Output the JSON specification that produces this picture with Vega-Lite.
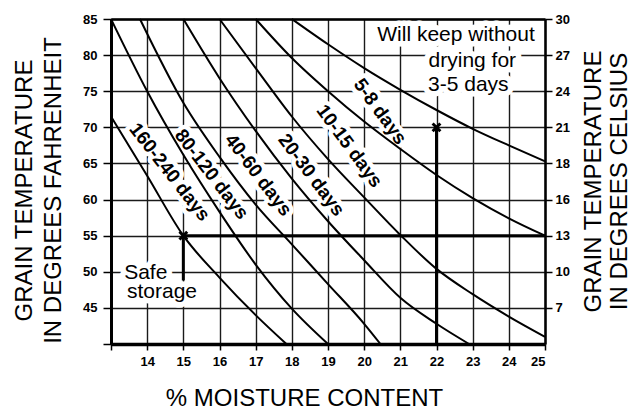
{
  "$schema": "https://vega.github.io/schema/vega-lite/v6.json",
  "width": 434,
  "height": 325,
  "autosize": {"type": "none"},
  "padding": {"left": 111, "top": 19, "right": 87, "bottom": 66},
  "background": "white",
  "config": {"view": {"stroke": null}, "font": "Liberation Sans"},
  "datasets": {
    "curves": [
      {"curve": "c1", "moisture": 13, "tempF": 71.5},
      {"curve": "c1", "moisture": 14, "tempF": 63.3},
      {"curve": "c1", "moisture": 15, "tempF": 55},
      {"curve": "c1", "moisture": 16, "tempF": 49.2},
      {"curve": "c1", "moisture": 17, "tempF": 44},
      {"curve": "c1", "moisture": 17.85, "tempF": 40},
      {"curve": "c2", "moisture": 13, "tempF": 85},
      {"curve": "c2", "moisture": 14, "tempF": 75},
      {"curve": "c2", "moisture": 15, "tempF": 66.2},
      {"curve": "c2", "moisture": 16, "tempF": 58.3},
      {"curve": "c2", "moisture": 17, "tempF": 51},
      {"curve": "c2", "moisture": 18, "tempF": 44.9},
      {"curve": "c2", "moisture": 19, "tempF": 40},
      {"curve": "c3", "moisture": 13.8, "tempF": 85},
      {"curve": "c3", "moisture": 15, "tempF": 73.4},
      {"curve": "c3", "moisture": 16, "tempF": 65.9},
      {"curve": "c3", "moisture": 17, "tempF": 59.3},
      {"curve": "c3", "moisture": 18, "tempF": 53.8},
      {"curve": "c3", "moisture": 19, "tempF": 48.3},
      {"curve": "c3", "moisture": 20, "tempF": 42.8},
      {"curve": "c3", "moisture": 20.45, "tempF": 40},
      {"curve": "c4", "moisture": 15, "tempF": 85},
      {"curve": "c4", "moisture": 16, "tempF": 76.8},
      {"curve": "c4", "moisture": 17, "tempF": 69.5},
      {"curve": "c4", "moisture": 18, "tempF": 62.9},
      {"curve": "c4", "moisture": 19, "tempF": 57},
      {"curve": "c4", "moisture": 20, "tempF": 51.6},
      {"curve": "c4", "moisture": 21, "tempF": 46.4},
      {"curve": "c4", "moisture": 22, "tempF": 42.8},
      {"curve": "c4", "moisture": 22.9, "tempF": 40},
      {"curve": "c5", "moisture": 16, "tempF": 85},
      {"curve": "c5", "moisture": 17, "tempF": 78.2},
      {"curve": "c5", "moisture": 18, "tempF": 71.5},
      {"curve": "c5", "moisture": 19, "tempF": 65.6},
      {"curve": "c5", "moisture": 20, "tempF": 60.3},
      {"curve": "c5", "moisture": 21, "tempF": 55.1},
      {"curve": "c5", "moisture": 22, "tempF": 50.4},
      {"curve": "c5", "moisture": 23, "tempF": 46.9},
      {"curve": "c5", "moisture": 24, "tempF": 43.8},
      {"curve": "c5", "moisture": 25, "tempF": 41},
      {"curve": "c6", "moisture": 17, "tempF": 85},
      {"curve": "c6", "moisture": 18, "tempF": 79.6},
      {"curve": "c6", "moisture": 19, "tempF": 75},
      {"curve": "c6", "moisture": 20, "tempF": 70.8},
      {"curve": "c6", "moisture": 21, "tempF": 67},
      {"curve": "c6", "moisture": 22, "tempF": 63.4},
      {"curve": "c6", "moisture": 23, "tempF": 60.2},
      {"curve": "c6", "moisture": 24, "tempF": 57.4},
      {"curve": "c6", "moisture": 25, "tempF": 55},
      {"curve": "c7", "moisture": 18, "tempF": 85},
      {"curve": "c7", "moisture": 19, "tempF": 81.5},
      {"curve": "c7", "moisture": 20, "tempF": 78.2},
      {"curve": "c7", "moisture": 21, "tempF": 75.2},
      {"curve": "c7", "moisture": 22, "tempF": 72.4},
      {"curve": "c7", "moisture": 23, "tempF": 69.8},
      {"curve": "c7", "moisture": 24, "tempF": 67.5},
      {"curve": "c7", "moisture": 25, "tempF": 65.3}
    ],
    "labels": [
      {"label": "160-240 days", "moisture": 14.62, "tempF": 63.8},
      {"label": "80-120 days", "moisture": 15.78, "tempF": 63.5},
      {"label": "40-60 days", "moisture": 17.07, "tempF": 63.4},
      {"label": "20-30 days", "moisture": 18.54, "tempF": 63.4},
      {"label": "10-15 days", "moisture": 19.59, "tempF": 67.4},
      {"label": "5-8 days", "moisture": 20.44, "tempF": 72.2}
    ],
    "notes": [
      {"note": "Safe", "moisture": 13.96, "tempF": 49.9},
      {"note": "storage", "moisture": 14.41, "tempF": 47.2},
      {"note": "Will keep without", "moisture": 22.54, "tempF": 82.8},
      {"note": "drying for", "moisture": 22.99, "tempF": 79.2},
      {"note": "3-5 days", "moisture": 22.88, "tempF": 75.8}
    ],
    "guides": [
      {"moisture": 15, "moisture2": 25, "tempF": 55, "tempF2": 55},
      {"moisture": 15, "moisture2": 15, "tempF": 55, "tempF2": 48.8},
      {"moisture": 22, "moisture2": 22, "tempF": 70, "tempF2": 40}
    ],
    "points": [
      {"moisture": 15, "tempF": 55},
      {"moisture": 22, "tempF": 70}
    ]
  },
  "layer": [
    {
      "data": {"name": "labels"},
      "mark": {"type": "text", "font": "Liberation Sans", "fontWeight": "bold", "fontSize": 19, "align": "center", "baseline": "middle", "color": "white", "stroke": "white", "strokeWidth": 9, "strokeJoin": "round"},
      "encoding": {
        "x": {
          "field": "moisture", "type": "quantitative",
          "scale": {"domain": [13, 25], "nice": false, "zero": false},
          "axis": {
            "orient": "bottom",
            "values": [13, 14, 15, 16, 17, 18, 19, 20, 21, 22, 23, 24, 25],
            "labelExpr": "datum.value == 13 ? '' : datum.label",
            "labelFont": "Liberation Sans", "labelFontWeight": "bold", "labelFontSize": 13, "labelColor": "black", "labelPadding": 5,
            "domainColor": "black", "domainWidth": 3.5,
            "tickColor": "black", "tickWidth": 1.5, "tickSize": 6,
            "grid": true, "gridColor": "#1a1a1a", "gridWidth": 1.4,
            "title": "% MOISTURE CONTENT",
            "titleFont": "Liberation Sans", "titleFontSize": 24, "titleFontWeight": "normal", "titleColor": "black",
            "titleX": 193, "titleY": 61, "titleAlign": "center", "titleBaseline": "alphabetic"
          }
        },
        "y": {
          "field": "tempF", "type": "quantitative",
          "scale": {"domain": [40, 85], "nice": false, "zero": false},
          "axis": {
            "orient": "left",
            "values": [40, 45, 50, 55, 60, 65, 70, 75, 80, 85],
            "labelExpr": "datum.value == 40 ? '' : datum.label",
            "labelFont": "Liberation Sans", "labelFontWeight": "bold", "labelFontSize": 13, "labelColor": "black", "labelPadding": 6,
            "domainColor": "black", "domainWidth": 3,
            "tickColor": "black", "tickWidth": 1.5, "tickSize": 8,
            "grid": true, "gridColor": "#1a1a1a", "gridWidth": 1.4,
            "title": ["GRAIN TEMPERATURE", "IN DEGREES FAHRENHEIT"],
            "titleFont": "Liberation Sans", "titleFontSize": 24, "titleFontWeight": "normal", "titleColor": "black", "titleLineHeight": 29,
            "titleAngle": 270, "titleX": -87, "titleY": 171, "titleAlign": "center", "titleBaseline": "middle"
          }
        },
        "text": {"field": "label"},
        "angle": {"field": "label", "type": "nominal", "scale": {"domain": ["160-240 days", "80-120 days", "40-60 days", "20-30 days", "10-15 days", "5-8 days"], "range": [52, 54, 54, 50, 43, 46]}, "legend": null}
      }
    },
    {
      "data": {"name": "notes"},
      "mark": {"type": "text", "font": "Liberation Sans", "fontSize": 21, "align": "center", "baseline": "middle", "color": "white", "stroke": "white", "strokeWidth": 11, "strokeJoin": "round"},
      "encoding": {
        "x": {"field": "moisture", "type": "quantitative", "axis": null},
        "y": {"field": "tempF", "type": "quantitative", "axis": null},
        "text": {"field": "note"}
      }
    },
    {
      "data": {"name": "curves"},
      "mark": {"type": "line", "color": "black", "strokeWidth": 2, "interpolate": "monotone"},
      "encoding": {
        "x": {
          "field": "moisture", "type": "quantitative",
          "axis": {"orient": "top", "domain": true, "domainColor": "black", "domainWidth": 2.5, "ticks": false, "labels": false, "grid": false, "title": null}
        },
        "y": {
          "field": "tempF", "type": "quantitative",
          "axis": {
            "orient": "right",
            "values": [45, 50, 55, 60, 65, 70, 75, 80, 85],
            "labelExpr": "datum.value == 85 ? '30' : datum.value == 80 ? '27' : datum.value == 75 ? '24' : datum.value == 70 ? '21' : datum.value == 65 ? '18' : datum.value == 60 ? '16' : datum.value == 55 ? '13' : datum.value == 50 ? '10' : datum.value == 45 ? '7' : ''",
            "labelFont": "Liberation Sans", "labelFontWeight": "bold", "labelFontSize": 13, "labelColor": "black", "labelPadding": 3,
            "domainColor": "black", "domainWidth": 2.5,
            "tickColor": "black", "tickWidth": 1.5, "tickSize": 7,
            "grid": false,
            "title": ["GRAIN TEMPERATURE", "IN DEGREES CELSIUS"],
            "titleFont": "Liberation Sans", "titleFontSize": 24, "titleFontWeight": "normal", "titleColor": "black", "titleLineHeight": 26,
            "titleAngle": 270, "titleX": 48, "titleY": 162, "titleAlign": "center", "titleBaseline": "middle"
          }
        },
        "detail": {"field": "curve"}
      }
    },
    {
      "data": {"name": "guides"},
      "mark": {"type": "rule", "color": "black", "strokeWidth": 3},
      "encoding": {
        "x": {"field": "moisture", "type": "quantitative", "axis": null},
        "x2": {"field": "moisture2"},
        "y": {"field": "tempF", "type": "quantitative", "axis": null},
        "y2": {"field": "tempF2"}
      }
    },
    {
      "data": {"name": "points"},
      "mark": {"type": "point", "shape": "M -1 -1 L 1 1 M 1 -1 L -1 1", "filled": false, "color": "black", "strokeWidth": 3, "size": 60, "opacity": 1},
      "encoding": {
        "x": {"field": "moisture", "type": "quantitative", "axis": null},
        "y": {"field": "tempF", "type": "quantitative", "axis": null}
      }
    },
    {
      "data": {"name": "labels"},
      "mark": {"type": "text", "font": "Liberation Sans", "fontWeight": "bold", "fontSize": 19, "align": "center", "baseline": "middle", "color": "black"},
      "encoding": {
        "x": {"field": "moisture", "type": "quantitative", "axis": null},
        "y": {"field": "tempF", "type": "quantitative", "axis": null},
        "text": {"field": "label"},
        "angle": {"field": "label", "type": "nominal", "legend": null}
      }
    },
    {
      "data": {"name": "notes"},
      "mark": {"type": "text", "font": "Liberation Sans", "fontSize": 21, "align": "center", "baseline": "middle", "color": "black"},
      "encoding": {
        "x": {"field": "moisture", "type": "quantitative", "axis": null},
        "y": {"field": "tempF", "type": "quantitative", "axis": null},
        "text": {"field": "note"}
      }
    }
  ],
  "resolve": {"axis": {"x": "independent", "y": "independent"}}
}
